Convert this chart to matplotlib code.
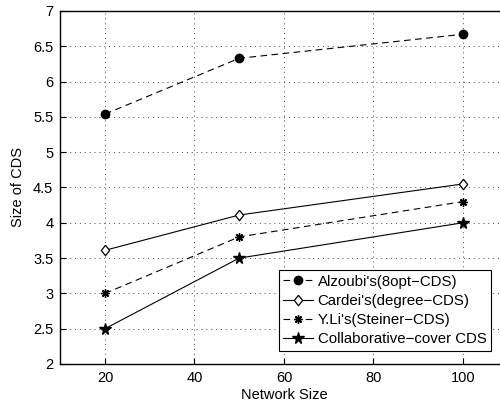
import matplotlib
matplotlib.use("Agg")
import matplotlib.pyplot as plt

plt.rcParams['font.family'] = ['Liberation Sans', 'DejaVu Sans']

network_size = [20, 50, 100]
alzoubi = [5.54, 6.33, 6.67]
cardei = [3.61, 4.11, 4.55]
yli = [3.0, 3.8, 4.3]
collab = [2.5, 3.5, 4.0]

# matlab style diamond, a bit taller than wide
diamond = [(0, 1), (0.8, 0), (0, -1), (-0.8, 0), (0, 1)]

fig = plt.figure(figsize=(5.0, 4.07), dpi=100)
ax = fig.add_axes([0.1206, 0.1057, 0.8946, 0.8673])

ax.plot(network_size, alzoubi, 'k--', linewidth=0.8, marker='o', markersize=6,
        dashes=(6, 4), label="Alzoubi's(8opt\u2212CDS)")
ax.plot(network_size, cardei, 'k-', linewidth=0.8, marker=diamond, markersize=7.5,
        markerfacecolor='white', markeredgewidth=0.9, label="Cardei's(degree\u2212CDS)")
ax.plot(network_size, yli, 'k--', linewidth=0.8, marker=(8, 2, 0), markersize=6,
        dashes=(6, 4), label="Y.Li's(Steiner\u2212CDS)")
ax.plot(network_size, collab, 'k-', linewidth=0.8, marker='*', markersize=8.5,
        label="Collaborative\u2212cover CDS")

ax.set_xlim(10, 110)
ax.set_ylim(2, 7)
ax.set_xticks([20, 40, 60, 80, 100])
ax.set_yticks([2, 2.5, 3, 3.5, 4, 4.5, 5, 5.5, 6, 6.5, 7])
ax.set_yticklabels(['2', '2.5', '3', '3.5', '4', '4.5', '5', '5.5', '6', '6.5', '7'])
ax.grid(True, linestyle=(0, (1, 4)), color='#444444', linewidth=0.7)
ax.tick_params(direction='in', labelsize=10.5, length=4, pad=5)
ax.set_xlabel('Network Size', fontsize=10.5, labelpad=2)
ax.set_ylabel('Size of CDS', fontsize=10.5, labelpad=6)
for s in ax.spines.values():
    s.set_linewidth(1.0)

leg = ax.legend(loc='lower right', bbox_to_anchor=(0.963, 0.037), fontsize=10.8,
                fancybox=False, framealpha=1, edgecolor='black',
                borderpad=0.3, labelspacing=0.35, handlelength=2.0,
                handletextpad=0.3, borderaxespad=0)
leg.get_frame().set_linewidth(0.8)

fig.savefig('out.png', dpi=100)
